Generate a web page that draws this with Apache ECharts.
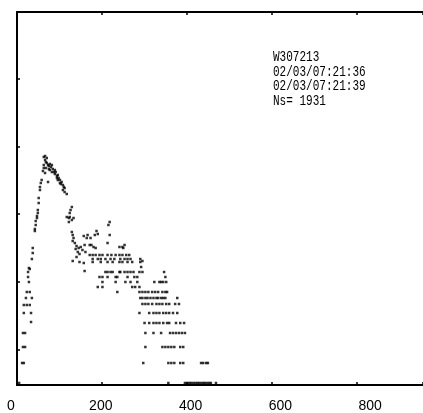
<!DOCTYPE html>
<html>
<head>
<meta charset="utf-8">
<script src="https://cdn.jsdelivr.net/npm/echarts@6/dist/echarts.min.js"></script>
<style>
  html, body { margin: 0; padding: 0; background: #fff; }
  #chart { width: 423px; height: 413px; }
</style>
</head>
<body>
<div id="chart"></div>
<script>
// x: time-like index, y: rate (arbitrary units, axis has no labels)
const xTicks = [0, 200, 400, 600, 800]
const yTicks = [35, 103, 171, 238, 306]
const noteLines = ['W307213', '02/03/07:21:36', '02/03/07:21:39', 'Ns= 1931']

const risePts = [
  [5, 2], [12, 22], [16, 22], [14, 38], [19, 38], [14, 52], [19, 52], [33, 63],
  [16, 72], [33, 72], [16, 80], [23, 80], [30, 80], [21, 87], [35, 87], [23, 93],
  [30, 93], [28, 103], [26, 108], [26, 113], [28, 117], [30, 116], [35, 126],
  [37, 132], [37, 137], [42, 154], [42, 156], [44, 160], [44, 164], [47, 167],
  [47, 169], [49, 172], [49, 175], [51, 182], [51, 187], [54, 195], [54, 198],
  [56, 202], [58, 205], [61, 214], [66, 212]
]

const peakPts = [
  [63, 228], [66, 229], [66, 225], [68, 223], [70, 227], [63, 220], [70, 222],
  [73, 220], [75, 219], [77, 221], [80, 218], [82, 220], [84, 216], [75, 216],
  [68, 217], [63, 217], [77, 215], [82, 213], [87, 213], [89, 215], [89, 211],
  [91, 213], [94, 209], [96, 210], [94, 207], [98, 207], [96, 205], [101, 205],
  [105, 203], [101, 202], [103, 201], [108, 200], [110, 198], [112, 197],
  [108, 195], [112, 193], [117, 191], [73, 203]
]

const bumpPts = [
  [129, 178], [126, 175], [124, 172], [117, 168], [122, 167], [124, 168],
  [129, 165], [133, 167], [122, 163]
]

const decayPts = [
  [129, 153], [131, 150], [133, 147], [131, 144], [136, 142], [140, 139],
  [138, 136], [145, 137], [150, 138], [143, 133], [147, 131], [140, 128],
  [157, 149], [164, 147], [166, 150], [159, 140], [154, 135], [161, 133],
  [171, 140], [175, 140], [180, 138], [185, 137], [131, 124], [147, 123],
  [157, 122], [159, 114], [218, 163], [215, 160], [187, 154], [183, 150],
  [190, 151], [218, 150], [173, 147], [213, 142], [241, 138], [248, 138],
  [250, 137], [253, 140], [295, 124], [292, 118]
]

// tail: counts sit on discrete levels
const tailLevels = [130, 126, 123, 113, 108, 103, 98, 93, 87, 81, 72, 62, 52, 38, 22, 2]
const tailRows = [
  [171, 178, 185, 194, 201, 213, 222, 232, 241, 248, 257, 264],
  [178, 190, 197, 208, 220, 229, 243, 253, 260, 267, 290],
  [178, 197, 213, 225, 241, 248, 260, 271, 290],
  [208, 213, 220, 225, 241, 243, 253, 260, 267, 274, 288, 295, 346],
  [194, 201, 213, 232, 236, 260, 276, 283, 349],
  [201, 232, 255, 267, 283, 323, 335, 339, 344, 351],
  [190, 201, 271, 278, 288],
  [236, 288, 295, 302, 309, 318, 325, 332, 342, 349, 353],
  [290, 295, 302, 307, 314, 321, 328, 332, 339, 344, 349, 377],
  [295, 302, 309, 318, 328, 335, 342, 351, 358, 372, 381],
  [288, 311, 321, 328, 335, 344, 351, 358, 367, 377],
  [300, 311, 321, 328, 335, 344, 353, 358, 374, 384, 393],
  [302, 321, 339, 360, 367, 374, 381, 388, 395],
  [302, 342, 349, 356, 363, 370, 384, 391],
  [297, 356, 363, 370, 384, 391, 433, 438, 445, 449],
  [356, 395, 400, 405, 409, 414, 419, 424, 428, 433, 438, 442, 447, 452, 456, 468]
]

const tailPts = []
tailRows.forEach(function (row, i) {
  row.forEach(function (x) { tailPts.push([x, tailLevels[i]]) })
})
const allPts = risePts.concat(peakPts, bumpPts, decayPts, tailPts)

const lineStyle = { color: '#000', width: 2 }
const tickStyle = { color: '#000', width: 1.5 }

const chart = echarts.init(document.getElementById('chart'), null, { renderer: 'canvas' })
chart.setOption({
  animation: false,
  backgroundColor: '#fff',
  grid: [
    { left: 17, right: 0, top: 12, bottom: 28, containLabel: false },
    // label row only, printed slightly off the tick marks as in the original
    { left: 11, right: 0, top: 12, bottom: 28, containLabel: false }
  ],
  xAxis: [
    {
      type: 'value', gridIndex: 0, position: 'bottom', min: 0, max: 955, interval: 200,
      axisLine: { lineStyle: lineStyle },
      axisTick: { inside: true, length: 3, lineStyle: tickStyle },
      axisLabel: { show: false },
      splitLine: { show: false }
    },
    {
      type: 'value', gridIndex: 0, position: 'top', min: 0, max: 955, interval: 200,
      axisLine: { lineStyle: lineStyle },
      axisTick: { inside: true, length: 3, lineStyle: tickStyle },
      axisLabel: { show: false },
      splitLine: { show: false }
    },
    {
      type: 'value', gridIndex: 1, position: 'bottom', min: 0, max: 917.6,
      axisLine: { show: false },
      axisTick: { show: false },
      splitLine: { show: false },
      axisLabel: {
        customValues: xTicks,
        margin: 15,
        color: '#000',
        fontSize: 14,
        fontFamily: '"Liberation Sans Narrow", "Liberation Sans", sans-serif'
      }
    }
  ],
  yAxis: [
    {
      type: 'value', gridIndex: 0, min: 0, max: 373,
      axisLine: { show: true, lineStyle: lineStyle },
      axisTick: { show: true, inside: true, length: 3, customValues: yTicks, lineStyle: tickStyle },
      axisLabel: { show: false },
      splitLine: { show: false }
    },
    {
      type: 'value', gridIndex: 1, show: false
    }
  ],
  graphic: [{
    type: 'text',
    x: 273,
    y: 50,
    scaleX: 0.735,
    style: {
      text: noteLines.join('\n'),
      font: '15px "Liberation Mono", monospace',
      lineHeight: 14.5,
      fill: '#000'
    }
  }],
  series: [{
    type: 'scatter',
    xAxisIndex: 0,
    yAxisIndex: 0,
    data: allPts,
    symbol: 'rect',
    symbolSize: 2.5,
    itemStyle: { color: '#000' },
    silent: true
  }]
})
</script>
</body>
</html>
